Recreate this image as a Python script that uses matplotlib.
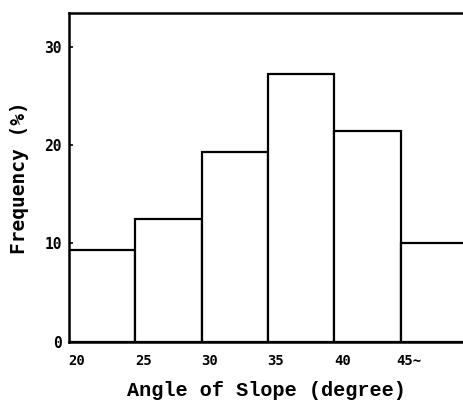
import matplotlib.pyplot as plt

# slope-angle classes and frequency (%)
bin_edges = [20, 25, 30, 35, 40, 45]
tick_labels = ['20', '25', '30', '35', '40', '45~']
frequency = [9.3, 12.5, 19.3, 27.2, 21.4, 10.0]

fig = plt.figure(figsize=(4.63, 4.08), dpi=100)
ax = fig.add_axes([0.149, 0.162, 0.851, 0.806])

ax.bar(bin_edges, frequency, width=5, align='edge', color='white',
       edgecolor='black', linewidth=1.6)

ax.set_xlim(20, 49.7)
ax.set_ylim(0, 33.4)

ax.set_xticks([e + 0.6 for e in bin_edges])
ax.set_xticklabels(tick_labels, fontfamily='DejaVu Sans Mono',
                   fontweight='bold', fontsize=10)
ax.set_yticks([0, 10, 20, 30])
ax.set_yticklabels(['0', '10', '20', '30'], fontfamily='DejaVu Sans Mono',
                   fontweight='bold', fontsize=10.5)
ax.tick_params(axis='x', length=0, pad=9)
ax.tick_params(axis='y', direction='in', length=3, width=1.2, pad=5)

for side in ['left', 'top', 'bottom']:
    ax.spines[side].set_linewidth(1.8)
ax.spines['right'].set_visible(False)

ax.set_xlabel('Angle of Slope (degree)', fontfamily='Liberation Mono',
              fontweight='bold', fontsize=14.5, labelpad=9)
ax.set_ylabel('Frequency (%)', fontfamily='DejaVu Sans Mono',
              fontweight='bold', fontsize=14, labelpad=11)

plt.savefig('out.png', dpi=100)
